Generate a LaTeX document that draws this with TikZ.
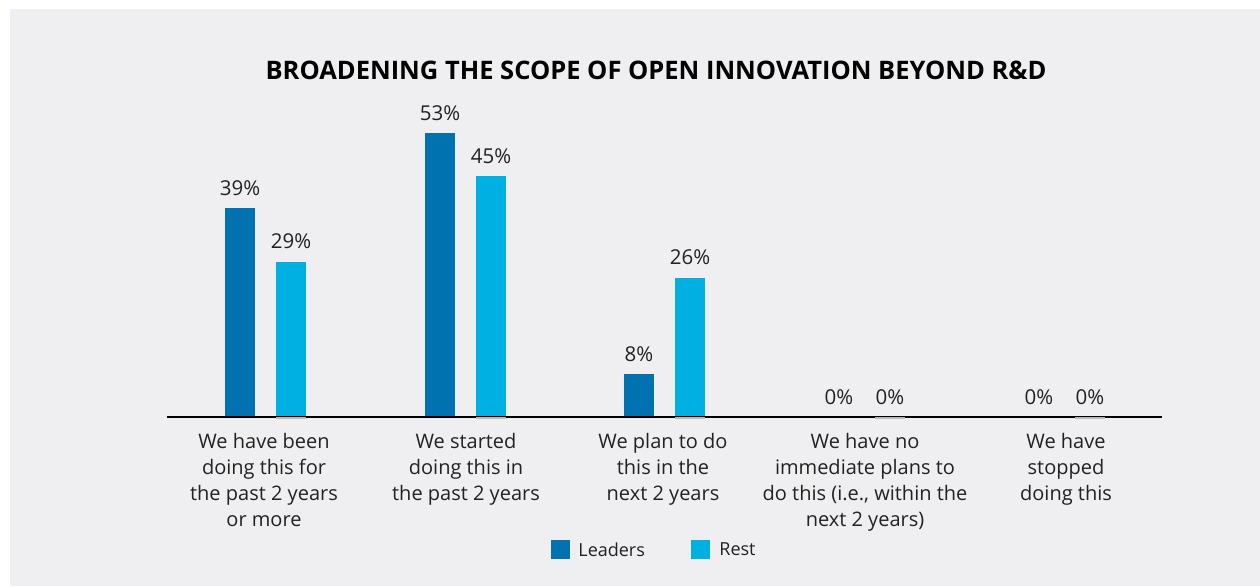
\documentclass[tikz,border=0pt]{standalone}
\usepackage{fontspec}
\setmainfont{Open Sans}
\usetikzlibrary{positioning}
\definecolor{leaders}{HTML}{0072B0}
\definecolor{rest}{HTML}{00B0E2}
\definecolor{panel}{HTML}{EFEFF2}
\definecolor{ink}{HTML}{222222}
\begin{document}
\begin{tikzpicture}[x=1pt,y=-1pt,
  pct/.style={text=ink,font=\fontsize{20.5}{20.5}\selectfont,anchor=base,inner sep=0pt},
  cat/.style={text=ink,font=\fontsize{20}{26}\selectfont,align=center,anchor=north,inner sep=0pt},
  legbox/.style={minimum size=19pt,inner sep=0pt},
  legtext/.style={text=ink,font=\fontsize{18}{18}\selectfont,inner sep=0pt}]
\useasboundingbox (0,0) rectangle (1260,586);
\fill[white] (0,0) rectangle (1260,586);
\fill[panel] (10,9) rectangle (1260,586);

\node[text=black,font=\bfseries\fontsize{25.5}{25.5}\selectfont,anchor=base,inner sep=0pt] (title) at (656,79) {BROADENING THE SCOPE OF OPEN INNOVATION BEYOND R\&D};

% bars, value labels
\foreach \g/\l/\r [count=\i] in {266/39/29, 466/53/45, 665/8/26, 865/0/0, 1065/0/0} {
  \fill[leaders] ({\g-41},417) rectangle ({\g-11},{417-5.35*\l});
  \fill[rest] ({\g+10},417) rectangle ({\g+40},{417-5.35*\r});
  \node[pct] (pL\i) at ({\g-26},{404-5.35*\l}) {\l\%};
  \node[pct] (pR\i) at ({\g+25},{404-5.35*\r}) {\r\%};
}

\draw[line width=2pt] (167,417) -- (1162,417);
\foreach \g in {266,466,665,865,1065}
  \draw[line width=2pt,gray!55] ({\g+10},417.5) -- ({\g+40},417.5);

\node[cat] (cat1) at (264,433) {We have been\\doing this for\\the past 2 years\\or more};
\node[cat] (cat2) at (466,433) {We started\\doing this in\\the past 2 years};
\node[cat] (cat3) at (663,433) {We plan to do\\this in the\\next 2 years};
\node[cat] (cat4) at (865,433) {We have no\\immediate plans to\\do this (i.e., within the\\next 2 years)};
\node[cat] (cat5) at (1066,433) {We have\\stopped\\doing this};

\node[legbox,fill=leaders] (keyL) at (560.5,549.5) {};
\node[legtext,right=8pt of keyL] (txtL) {Leaders};
\node[legbox,fill=rest] (keyR) at (700.5,549.5) {};
\node[legtext,right=9pt of keyR] (txtR) {Rest};
\end{tikzpicture}
\end{document}
